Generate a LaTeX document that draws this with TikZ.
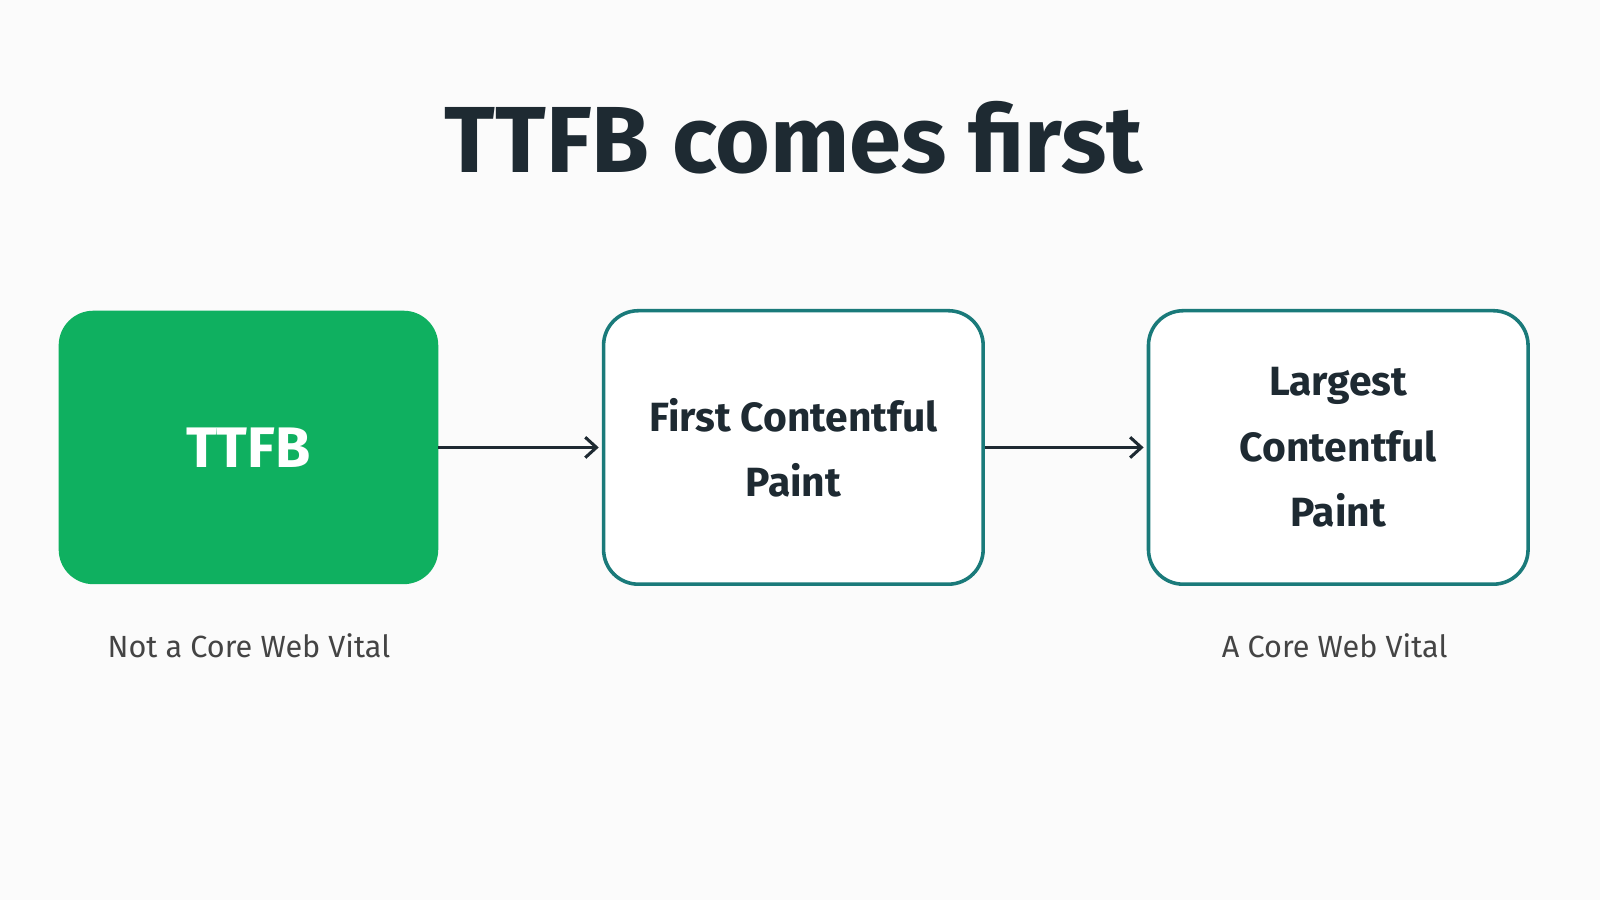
\documentclass[tikz,border=0pt]{standalone}
\usepackage{fontspec}
\setmainfont{Fira Sans}
\usetikzlibrary{arrows.meta}
\definecolor{ink}{HTML}{1E2A32}
\definecolor{grn}{HTML}{0FB060}
\definecolor{teal}{HTML}{1A7A7A}
\definecolor{lab}{HTML}{444444}
\begin{document}
\begin{tikzpicture}[x=1pt,y=-1pt,
  box/.style={rounded corners=34pt,minimum width=372pt,minimum height=268pt,inner sep=0pt,align=center},
  outl/.style={box,draw=teal,line width=3.5pt,fill=white,text=ink,font=\fontsize{40}{64}\selectfont\bfseries},
  conn/.style={draw=ink,line width=3pt,-{Straight Barb[length=11pt,width=20pt,line width=3pt]}},
  lbl/.style={text=lab,font=\fontsize{30}{36}\selectfont}]
\fill[white!97!gray] (0,0) rectangle (1568,882);
\useasboundingbox (0,0) rectangle (1568,882);
\node[text=ink,font=\fontsize{92}{100}\selectfont\bfseries] (title) at (778,135) {TTFB comes first};
\node[box,fill=grn,text=white,font=\fontsize{56}{60}\selectfont\bfseries] (a) at (243.5,438.5) {TTFB};
\node[outl] (b) at (777.5,438.5) {First Contentful\\Paint};
\node[outl] (c) at (1311.5,438.5) {Largest\\Contentful\\Paint};
\draw[conn] (a.east) -- ([xshift=-3pt]b.west);
\draw[conn] (b.east) -- ([xshift=-3pt]c.west);
\node[lbl] (la) at (244,633) {Not a Core Web Vital};
\node[lbl] (lc) at (1308,633) {A Core Web Vital};
\end{tikzpicture}
\end{document}
